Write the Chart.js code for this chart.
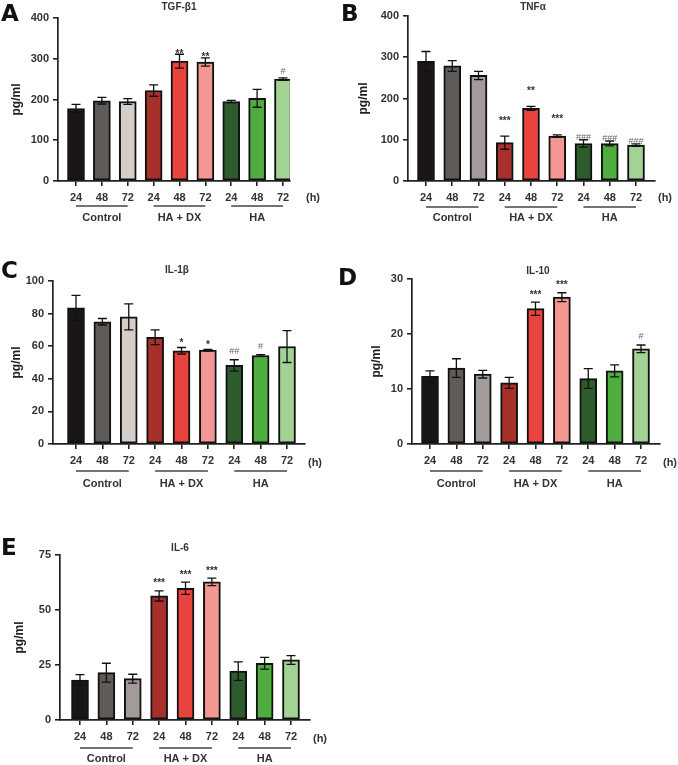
<!DOCTYPE html>
<html>
<head>
<meta charset="utf-8">
<script src="https://cdn.jsdelivr.net/npm/chart.js@4.4.0/dist/chart.umd.min.js"></script>
<style>
body{margin:0;background:#fff;width:678px;height:765px;position:relative;overflow:hidden;}
canvas{position:absolute;}
</style>
</head>
<body>
<script>
// ------------------ DATA ------------------
const hours = ["24","48","72","24","48","72","24","48","72"];
const groups = ["Control","HA + DX","HA"];

const tgfMeans = [178,197,195,222,294,292,195,203,250];
const tgfErr   = [10,8,7,14,17,10,3,22,3];
const tgfMarks = ["","","","","**","**","","","#"];

const tnfMeans = [290,279,256,93,176,109,91,91,87];
const tnfErr   = [24,13,10,16,5,3,9,6,3];
const tnfMarks = ["","","","***","**","***","###","###","###"];

const il1Means = [83.5,75,78,65.5,57.2,57.6,48.2,54.3,59.8];
const il1Err   = [7.7,2,8,4.5,2,0.5,3.5,0.5,9.8];
const il1Marks = ["","","","","*","*","##","#",""];

const il10Means = [12.3,13.8,12.7,11.1,24.6,26.7,11.9,13.3,17.3];
const il10Err   = [1,1.7,0.7,1,1.2,0.8,1.8,1.1,0.7];
const il10Marks = ["","","","","***","***","","","#"];

const il6Means = [18.2,21.5,18.8,56.4,59.9,62.8,22.2,25.8,27.3];
const il6Err   = [2.4,4.3,2,2.3,2.8,1.7,4.2,2.7,2];
const il6Marks = ["","","","***","***","***","","",""];

const colorsLight = ["#1a1517","#5f5b59","#d5cdc9","#a8302b","#e8433d","#f29792","#2e5b2b","#4fac3f","#a3d394"];
const colorsGrey  = ["#1a1517","#5f5b59","#a39b99","#a8302b","#e8433d","#f29792","#2e5b2b","#4fac3f","#a3d394"];

// ------------------ PANELS ------------------
const panels = [
  {letter:"A", title:"TGF-β1", means:tgfMeans, errs:tgfErr, marks:tgfMarks, colors:colorsLight, max:400, step:100,
   left:0, top:0, w:339, h:240, axisX:58, axisTop:18, axisBottom:181, axisEnd:290, firstBar:76, lastBar:283,
   hX:313, titleX:179, titleY:7, letterX:1, letterY:21, yTitleX:17, starGap:3, hashGap:7, tickOff:17, lineOff:25, labelOff:37},
  {letter:"B", title:"TNFα", means:tnfMeans, errs:tnfErr, marks:tnfMarks, colors:colorsGrey, max:400, step:100,
   left:339, top:0, w:339, h:240, axisX:408, axisTop:16, axisBottom:181, axisEnd:655, firstBar:426, lastBar:636,
   hX:665, titleX:533, titleY:7, letterX:341, letterY:21, yTitleX:364, starGap:18, hashGap:3, tickOff:17, lineOff:26, labelOff:37},
  {letter:"C", title:"IL-1β", means:il1Means, errs:il1Err, marks:il1Marks, colors:colorsLight, max:100, step:20,
   left:0, top:245, w:339, h:250, axisX:53, axisTop:281, axisBottom:444, axisEnd:305, firstBar:76, lastBar:287,
   hX:315, titleX:177, titleY:270, letterX:1, letterY:278, yTitleX:17, starGap:7, hashGap:9, tickOff:19, lineOff:27, labelOff:40},
  {letter:"D", title:"IL-10", means:il10Means, errs:il10Err, marks:il10Marks, colors:colorsGrey, max:30, step:10,
   left:339, top:245, w:339, h:250, axisX:412, axisTop:279, axisBottom:444, axisEnd:660, firstBar:430, lastBar:641,
   hX:670, titleX:538, titleY:271, letterX:338, letterY:285, yTitleX:377, starGap:10, hashGap:9, tickOff:19, lineOff:27, labelOff:40},
  {letter:"E", title:"IL-6", means:il6Means, errs:il6Err, marks:il6Marks, colors:colorsGrey, max:75, step:25,
   left:0, top:500, w:339, h:265, axisX:60, axisTop:555, axisBottom:720, axisEnd:310, firstBar:80, lastBar:291,
   hX:320, titleX:180, titleY:548, letterX:1, letterY:555, yTitleX:20, starGap:10, hashGap:9, tickOff:19, lineOff:28, labelOff:39}
];

const FONT = "'Liberation Sans', Arial, sans-serif";

// ------------------ EXTRAS PLUGIN ------------------
const extras = {
  id: "extras",
  afterDatasetsDraw(chart){
    const p = chart.options.plugins.extras.panel;
    const ctx = chart.ctx;
    const ys = chart.scales.y;
    const meta = chart.getDatasetMeta(0);
    ctx.save();
    // error bars
    ctx.strokeStyle = "#111";
    ctx.lineWidth = 1.3;
    meta.data.forEach((bar, i)=>{
      const yt = ys.getPixelForValue(p.means[i] + p.errs[i]);
      const yb = ys.getPixelForValue(p.means[i] - p.errs[i]);
      ctx.beginPath();
      ctx.moveTo(bar.x, yt); ctx.lineTo(bar.x, yb);
      ctx.moveTo(bar.x-4.5, yt); ctx.lineTo(bar.x+4.5, yt);
      ctx.moveTo(bar.x-4.5, yb); ctx.lineTo(bar.x+4.5, yb);
      ctx.stroke();
      // significance marks
      const m = p.marks[i];
      if(!m) return;
      ctx.textAlign = "center";
      ctx.textBaseline = "alphabetic";
      if(m[0]==="*"){
        ctx.font = "bold 10px " + FONT;
        ctx.fillStyle = "#333";
        ctx.fillText(m, bar.x, yt - p.starGap + 5.5);
      }else{
        ctx.font = "9px " + FONT;
        ctx.fillStyle = "#666";
        ctx.fillText(m, bar.x, yt - p.hashGap + 3.2);
      }
    });
    ctx.restore();
  },
  afterDraw(chart){
    const p = chart.options.plugins.extras.panel;
    const ctx = chart.ctx;
    const xs = chart.scales.x;
    const bottom = chart.chartArea.bottom;
    ctx.save();
    // group lines + labels
    ctx.strokeStyle = "#444";
    ctx.lineWidth = 1.4;
    ctx.fillStyle = "#333";
    ctx.font = "bold 11px " + FONT;
    ctx.textAlign = "center";
    ctx.textBaseline = "middle";
    groups.forEach((g, k)=>{
      const x1 = xs.getPixelForValue(k*3), x2 = xs.getPixelForValue(k*3+2);
      ctx.beginPath();
      ctx.moveTo(x1, bottom + p.lineOff); ctx.lineTo(x2, bottom + p.lineOff);
      ctx.stroke();
      ctx.fillText(g, (x1+x2)/2, bottom + p.labelOff);
    });
    ctx.fillText("(h)", p.hX - p.left, bottom + p.tickOff);
    // title
    ctx.font = "bold 10px " + FONT;
    ctx.fillText(p.title, p.titleX - p.left, p.titleY - p.top);
    // panel letter
    ctx.font = "bold 23px 'DejaVu Sans', " + FONT;
    ctx.fillStyle = "#111";
    ctx.textAlign = "left";
    ctx.textBaseline = "alphabetic";
    ctx.fillText(p.letter, p.letterX - p.left, p.letterY - p.top);
    ctx.restore();
  }
};

// ------------------ BUILD CHARTS ------------------
function makePanel(p){
  const cv = document.createElement("canvas");
  cv.style.left = p.left + "px";
  cv.style.top = p.top + "px";
  cv.style.width = p.w + "px";
  cv.style.height = p.h + "px";
  cv.width = p.w; cv.height = p.h;
  document.body.appendChild(cv);

  const unit = (p.lastBar - p.firstBar) / 8;
  const xmin = -(p.firstBar - p.axisX) / unit;
  const xmax = 8 + (p.axisEnd - p.lastBar) / unit;

  new Chart(cv.getContext("2d"), {
    type: "bar",
    data: {
      datasets: [{
        data: p.means.map((v, i)=>({x:i, y:v})),
        backgroundColor: p.colors,
        borderColor: "#111",
        borderWidth: 2,
        borderSkipped: false,
        barThickness: 17
      }]
    },
    options: {
      responsive: false,
      animation: false,
      layout: {padding: {left:0, top:p.axisTop - p.top, right:p.w - (p.axisEnd - p.left), bottom:0}},
      plugins: {legend:{display:false}, tooltip:{enabled:false}, extras:{panel:p}},
      scales: {
        x: {
          type: "linear",
          offset: false,
          min: xmin, max: xmax,
          afterBuildTicks: s => { s.ticks = hours.map((h, i)=>({value:i})); },
          afterFit: s => { s.height = p.h - (p.axisBottom - p.top); },
          ticks: {
            callback: (v)=> hours[v],
            font: {family: FONT, size: 11, weight: "bold"},
            color: "#333",
            padding: 5,
            maxRotation: 0,
            autoSkip: false
          },
          grid: {display:true, offset:false, drawOnChartArea:false, drawTicks:true, tickLength:5, color:"#222", lineWidth:1.6},
          border: {display:true, color:"#222", width:1.7}
        },
        y: {
          min: 0, max: p.max,
          afterFit: s => { s.width = p.axisX - p.left; },
          ticks: {
            stepSize: p.step,
            font: {family: FONT, size: 11, weight: "bold"},
            color: "#333",
            padding: 4
          },
          title: {
            display: true,
            text: "pg/ml",
            font: {family: FONT, size: 12, weight: "bold"},
            color: "#222",
            padding: {top: p.yTitleX - p.left - 7.2, bottom: 0}
          },
          grid: {display:true, drawOnChartArea:false, drawTicks:true, tickLength:5, color:"#222", lineWidth:1.6},
          border: {display:true, color:"#222", width:1.7}
        }
      }
    },
    plugins: [extras]
  });
}

panels.forEach(makePanel);
</script>
</body>
</html>
